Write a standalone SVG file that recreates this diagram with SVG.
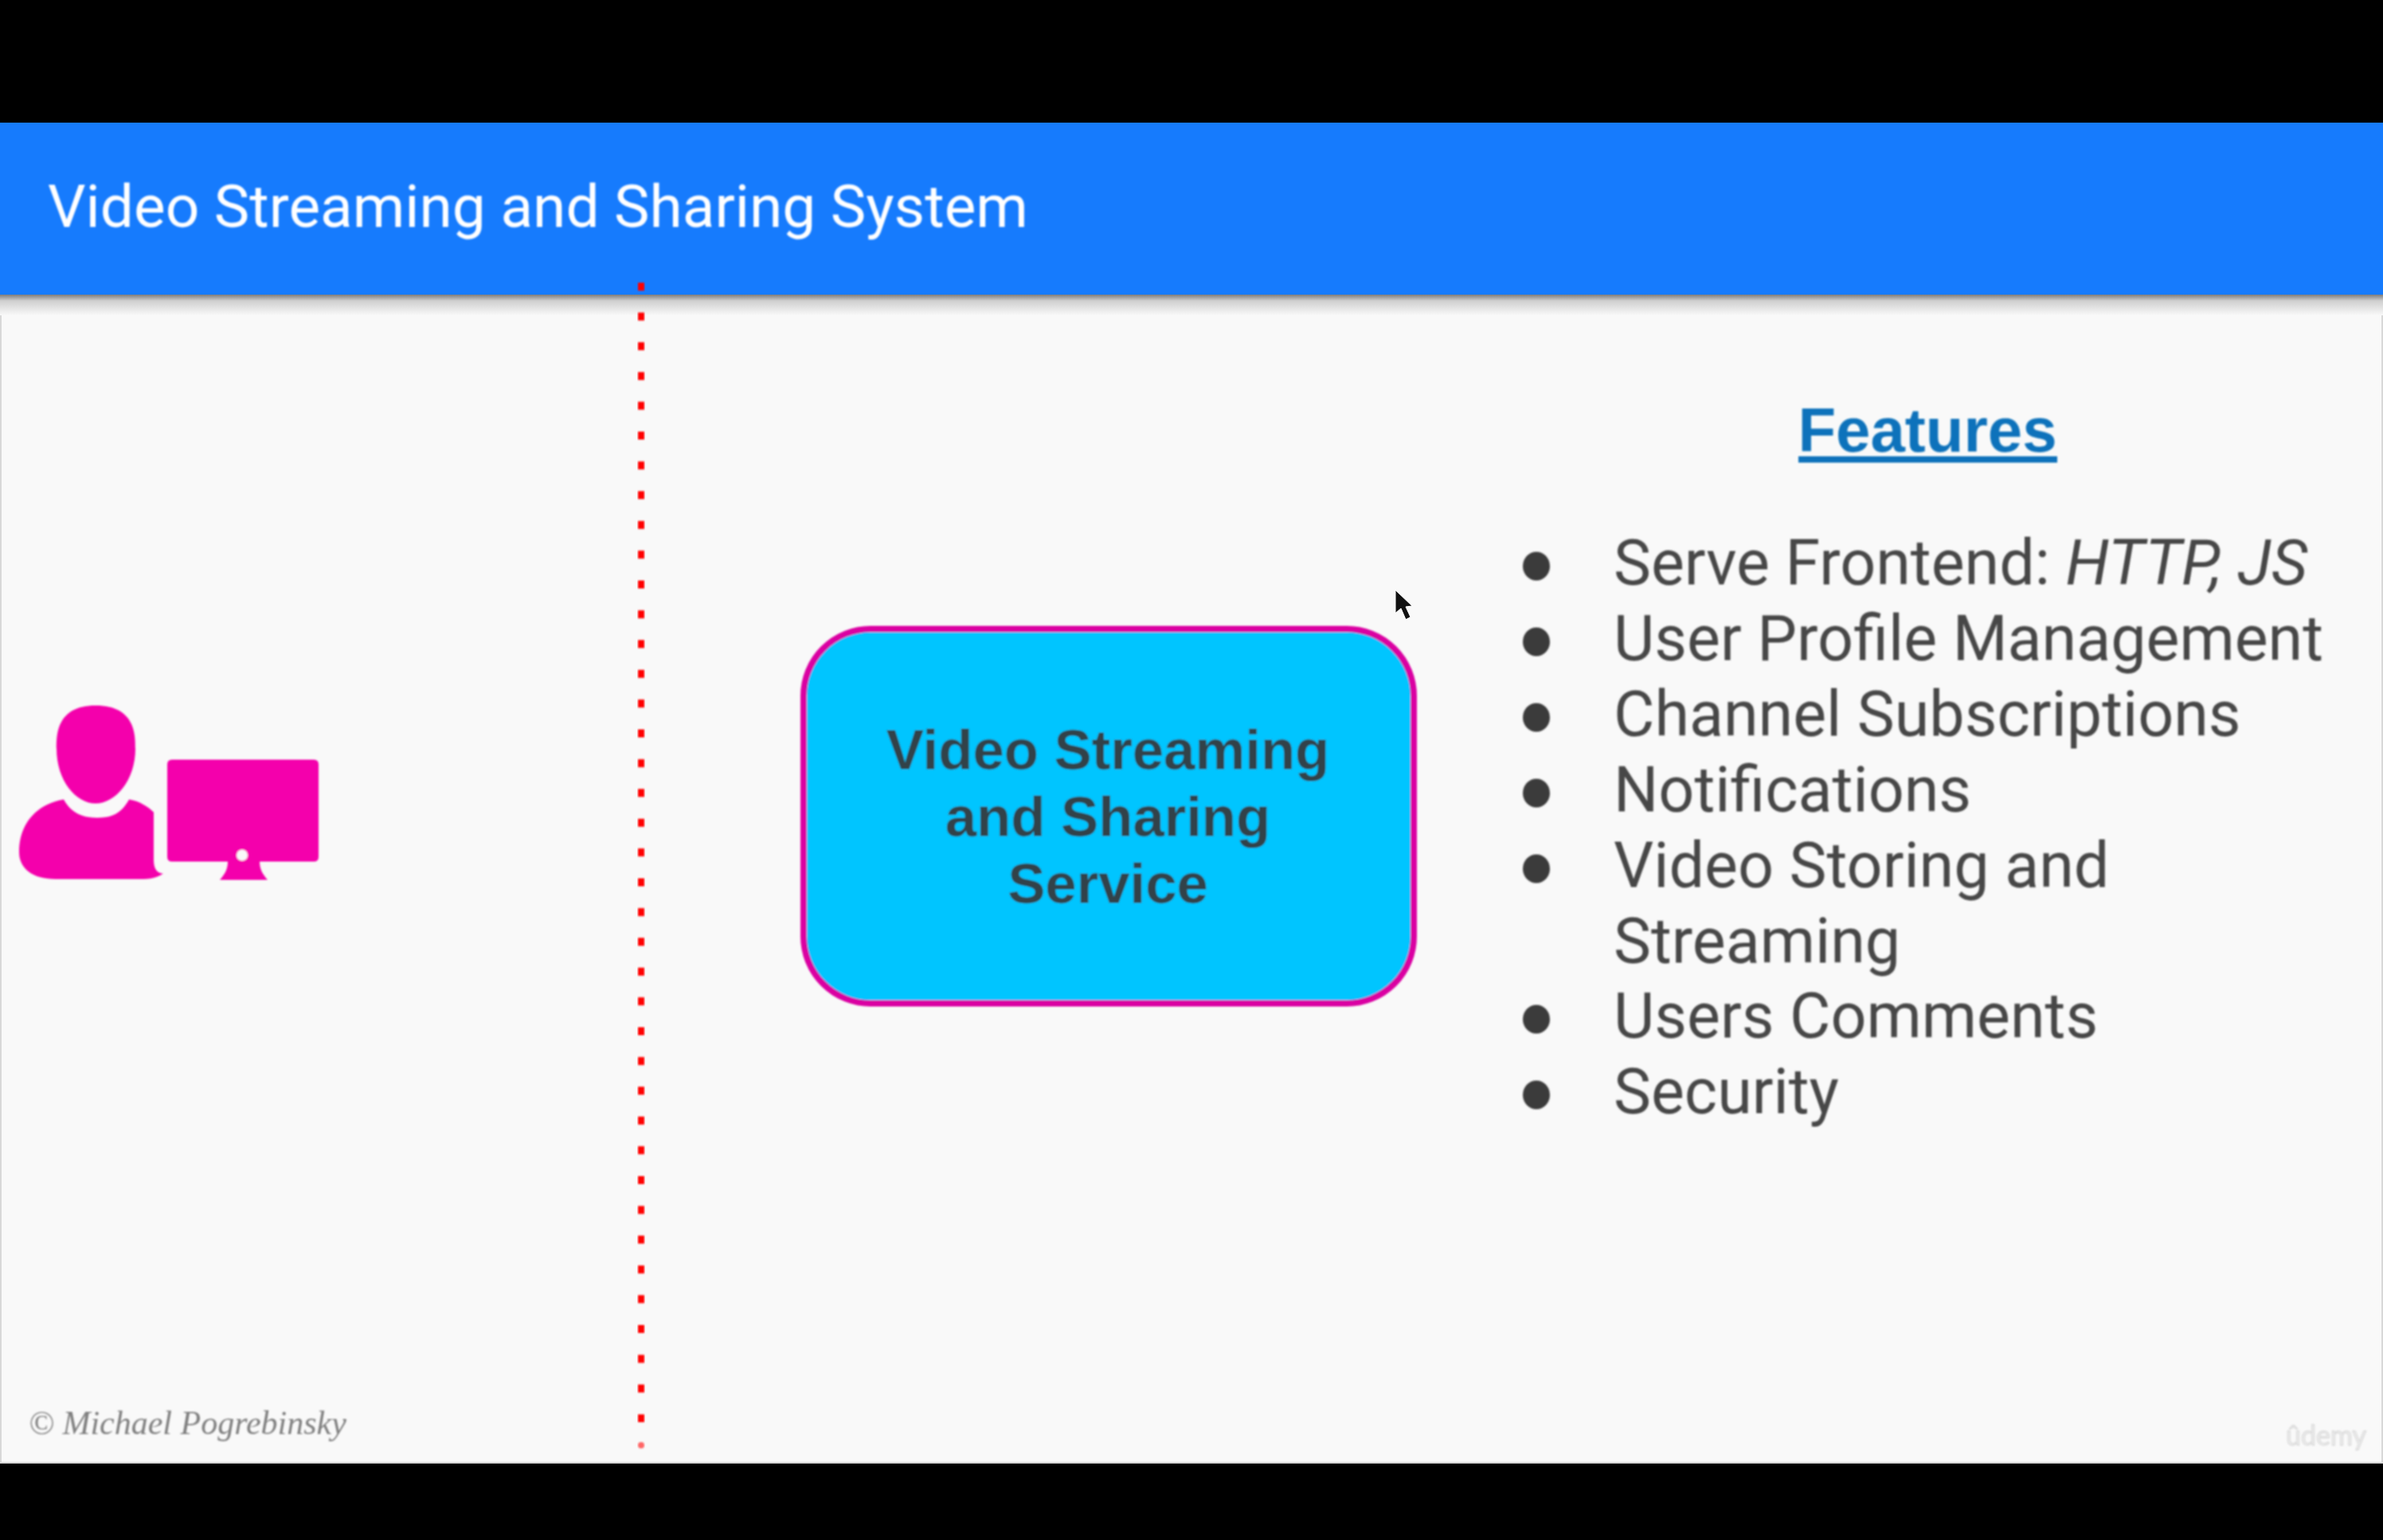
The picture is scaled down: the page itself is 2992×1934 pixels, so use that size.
<svg xmlns="http://www.w3.org/2000/svg" width="2992" height="1934" viewBox="0 0 2992 1934">
<style>
.li{font-family:Roboto,"Liberation Sans",sans-serif;font-size:79px;fill:#474747}
.bu{fill:#3a3a3a}
.nt{font-family:"Liberation Sans",Arial,sans-serif;font-size:70.7px;font-weight:700;fill:#32424a;text-anchor:middle}
</style>
<defs>
<linearGradient id="sh" x1="0" y1="0" x2="0" y2="1"><stop offset="0" stop-color="#7d7d7d"/><stop offset="0.3" stop-color="#cfcfcf"/><stop offset="1" stop-color="#f9f9f9"/></linearGradient>
<filter id="b1" x="-5%" y="-5%" width="110%" height="110%"><feGaussianBlur stdDeviation="1"/></filter>
</defs>
<rect width="2992" height="1934" fill="#000"/>
<rect x="1" y="155" width="2990" height="1682" fill="#f9f9f9" stroke="#d8d8d8" stroke-width="2"/>
<rect x="0" y="370" width="2992" height="26" fill="url(#sh)"/>
<rect x="0" y="154" width="2992" height="216" fill="#167bfd"/>
<text x="60" y="285" font-family="Roboto,'Liberation Sans',sans-serif" font-size="74.8" fill="#fff" filter="url(#b1)">Video Streaming and Sharing System</text>
<g id="connectors" filter="url(#b1)"><line x1="805" y1="355" x2="805" y2="1786" stroke="#f00" stroke-width="8" stroke-dasharray="10 27.4"/><circle cx="805" cy="1815" r="4" fill="#f66"/></g>
<g id="user" fill="#f400ac" filter="url(#b1)">
<path d="M120 886C171 886 170 925 170 940C170 980 145 1009 120 1009C95 1009 71 980 71 940C71 925 70 886 120 886Z"/>
<path d="M80 1004C90 1022 105 1027 122 1027C140 1027 152 1022 162 1004C175 1006 186 1013 193 1020V1080C193 1092 198 1097 205 1097C195 1104 185 1104 170 1104H70C40 1104 24 1090 24 1070C24 1035 45 1010 80 1004Z"/>
<path d="M216 954H394Q400 954 400 960V1076Q400 1082 394 1082H326C326 1092 330 1098 336 1105H276C282 1098 286 1092 286 1082H216Q210 1082 210 1076V960Q210 954 216 954Z"/>
<circle cx="304" cy="1074" r="7" fill="#f9f9f9"/>
</g>
<g id="service" filter="url(#b1)">
<rect x="1009" y="790" width="766" height="470" rx="84" ry="84" fill="#00c5ff" stroke="#da00a2" stroke-width="8"/>
<text class="nt" x="1391" y="966">Video Streaming</text>
<text class="nt" x="1391" y="1050">and Sharing</text>
<text class="nt" x="1391" y="1134">Service</text>
</g>
<g id="features" filter="url(#b1)">
<text x="2420" y="567" text-anchor="middle" font-family="'Liberation Sans',Arial,sans-serif" font-size="78" font-weight="700" fill="#0b72bb">Features</text>
<rect x="2258" y="573" width="325" height="8" fill="#0b72bb"/>
<ellipse class="bu" cx="1929" cy="711" rx="17" ry="18"/><text class="li" x="2026" y="734">Serve Frontend: <tspan font-style="italic">HTTP, JS</tspan></text>
<ellipse class="bu" cx="1929" cy="806" rx="17" ry="18"/><text class="li" x="2026" y="829">User Profile Management</text>
<ellipse class="bu" cx="1929" cy="901" rx="17" ry="18"/><text class="li" x="2026" y="924">Channel Subscriptions</text>
<ellipse class="bu" cx="1929" cy="996" rx="17" ry="18"/><text class="li" x="2026" y="1019">Notifications</text>
<ellipse class="bu" cx="1929" cy="1091" rx="17" ry="18"/><text class="li" x="2026" y="1114">Video Storing and</text>
<text class="li" x="2026" y="1209">Streaming</text>
<ellipse class="bu" cx="1929" cy="1280" rx="17" ry="18"/><text class="li" x="2026" y="1303">Users Comments</text>
<ellipse class="bu" cx="1929" cy="1375" rx="17" ry="18"/><text class="li" x="2026" y="1398">Security</text>
</g>
<text x="36" y="1801" font-family="'Liberation Serif',serif" font-style="italic" font-size="42" fill="#808080" filter="url(#b1)">© Michael Pogrebinsky</text>
<text x="2870" y="1815" font-family="Lato,'Liberation Sans',sans-serif" font-size="34" fill="#eeeeee" stroke="#d4d4d4" stroke-width="1" filter="url(#b1)">ûdemy</text>
<path d="M1752 741L1752 770L1759 764L1765 778L1771 775L1765 762L1773 761Z" fill="#111" stroke="#fff" stroke-width="1"/>
</svg>
